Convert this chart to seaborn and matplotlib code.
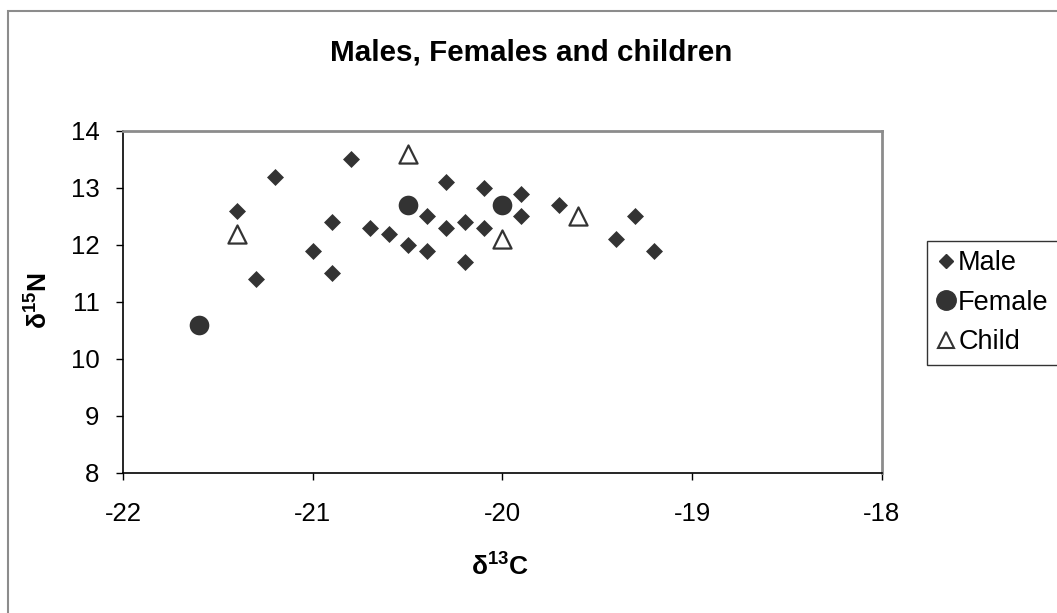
import matplotlib
matplotlib.use("Agg")
import matplotlib.pyplot as plt
import matplotlib.patches as mpatches
from matplotlib.lines import Line2D
import seaborn as sns
import pandas as pd

# values
male_x = [-21.4, -21.2, -21.3, -20.8, -21.0, -20.9, -20.9, -20.7, -20.6, -20.5, -20.4, -20.4,
          -20.3, -20.3, -20.2, -20.2, -20.1, -20.1, -19.9, -19.9, -19.7, -19.4, -19.3, -19.2]
male_y = [12.6, 13.2, 11.4, 13.5, 11.9, 12.4, 11.5, 12.3, 12.2, 12.0, 12.5, 11.9,
          13.1, 12.3, 12.4, 11.7, 13.0, 12.3, 12.9, 12.5, 12.7, 12.1, 12.5, 11.9]
female_x = [-21.6, -20.5, -20.0]
female_y = [10.6, 12.7, 12.7]
child_x = [-21.4, -20.5, -20.0, -19.6]
child_y = [12.2, 13.6, 12.1, 12.5]

groups = ["Male", "Female", "Child"]
x_ticks = [-22, -21, -20, -19, -18]
y_ticks = [8, 9, 10, 11, 12, 13, 14]

df = pd.concat([
    pd.DataFrame({"d13C": male_x, "d15N": male_y, "group": "Male"}),
    pd.DataFrame({"d13C": female_x, "d15N": female_y, "group": "Female"}),
    pd.DataFrame({"d13C": child_x, "d15N": child_y, "group": "Child"}),
], ignore_index=True)

sns.set_style("white")
plt.rcParams["font.family"] = ["Liberation Sans", "DejaVu Sans"]
plt.rcParams["text.color"] = "black"
plt.rcParams["xtick.color"] = "black"
plt.rcParams["ytick.color"] = "black"
plt.rcParams["axes.unicode_minus"] = False
plt.rcParams["mathtext.fontset"] = "custom"
plt.rcParams["mathtext.rm"] = "Liberation Sans"
plt.rcParams["mathtext.bf"] = "Liberation Sans:bold"

dark = "#333333"
fig = plt.figure(figsize=(10.57, 6.13), dpi=100)
ax = fig.add_axes([0.1164, 0.2284, 0.718, 0.558])

sns.scatterplot(data=df[df.group == "Male"], x="d13C", y="d15N", marker="D", s=75,
                color=dark, edgecolor=dark, linewidth=0, ax=ax, legend=False)
sns.scatterplot(data=df[df.group == "Female"], x="d13C", y="d15N", marker="o", s=200,
                color=dark, edgecolor=dark, linewidth=0, ax=ax, legend=False)
sns.scatterplot(data=df[df.group == "Child"], x="d13C", y="d15N", marker="^", s=170,
                facecolor="white", edgecolor=dark, linewidth=1.6, ax=ax, legend=False)

ax.set_xlim(-22, -18)
ax.set_ylim(8, 14)
ax.set_xticks(x_ticks)
ax.set_yticks(y_ticks)
ax.tick_params(axis="both", direction="out", length=5, width=1, color="black",
               labelcolor="black", labelsize=18.5, bottom=True, left=True)
ax.tick_params(axis="x", pad=16)
ax.tick_params(axis="y", pad=12)
ax.set_xlabel("")
ax.set_ylabel("")
for side in ["left", "bottom"]:
    ax.spines[side].set_color("black")
    ax.spines[side].set_linewidth(1.2)
for side in ["top", "right"]:
    ax.spines[side].set_color("#8c8c8c")
    ax.spines[side].set_linewidth(2)

fig.text(0.503, 0.915, "Males, Females and children", ha="center", va="center",
         fontsize=21.3, fontweight="bold", color="black")
fig.text(0.473, 0.077, "δ$^{\\mathbf{13}}$C", ha="center", va="center",
         fontsize=19, fontweight="bold", color="black")
fig.text(0.036, 0.509, "δ$^{\\mathbf{15}}$N", ha="center", va="center",
         fontsize=19, fontweight="bold", rotation=90, color="black")

handles = [
    Line2D([], [], marker="D", linestyle="none", color=dark, markersize=7),
    Line2D([], [], marker="o", linestyle="none", color=dark, markersize=14),
    Line2D([], [], marker="^", linestyle="none", markerfacecolor="white",
           markeredgecolor=dark, markeredgewidth=1.5, markersize=12),
]
leg = fig.legend(handles, groups, loc="upper left", bbox_to_anchor=(0.877, 0.607),
                 frameon=True, fancybox=False, fontsize=19.5, handlelength=0.7,
                 handletextpad=0.1, borderpad=0.35, labelspacing=0.5, borderaxespad=0)
leg.get_frame().set_edgecolor("black")
leg.get_frame().set_linewidth(1)
for t in leg.get_texts():
    t.set_color("black")

# outer chart border
fig.patches.append(mpatches.Rectangle((0.0076, -0.05), 1.1, 1.032, transform=fig.transFigure,
                                      fill=False, edgecolor="#8c8c8c", linewidth=1.5))

fig.savefig("out.png", dpi=100)
